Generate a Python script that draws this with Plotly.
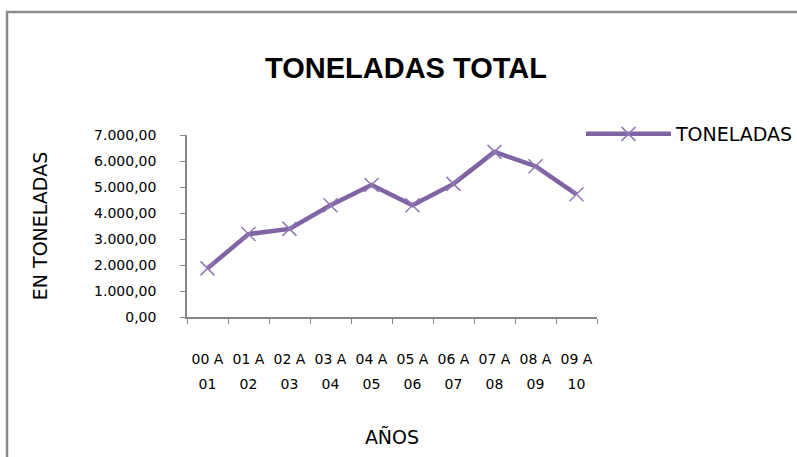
import plotly.graph_objects as go

# Tonnage per season, 2000-2010
periodo_inicio = ["00 A", "01 A", "02 A", "03 A", "04 A", "05 A", "06 A", "07 A", "08 A", "09 A"]
periodo_fin = ["01", "02", "03", "04", "05", "06", "07", "08", "09", "10"]
toneladas = [1870, 3190, 3390, 4300, 5080, 4300, 5120, 6350, 5800, 4720]

PURPLE = "#7F63A2"
W, H = 797, 457
L, R, T, B = 187, 200, 135, 140
pw, ph = W - L - R, H - T - B

def px(x):
    return (x - L) / pw

def py(y):
    return (H - B - y) / ph

AXIS_GREY = "#868686"
TICK_FONT = dict(family="DejaVu Sans", size=14, color="black")
TITLE_FONT = dict(family="DejaVu Sans", size=19, color="black")

fig = go.Figure()
fig.add_trace(go.Scatter(
    x=periodo_inicio, y=toneladas, name="TONELADAS", mode="lines+markers",
    line=dict(color=PURPLE, width=4.5),
    marker=dict(symbol="x-thin", size=14, line=dict(color="#9279B5", width=1.5)),
))
# same series on the numeric twin axis that carries the second label row (kept invisible)
fig.add_trace(go.Scatter(
    x=list(range(len(toneladas))), y=toneladas, xaxis="x2", mode="lines",
    line=dict(width=0), opacity=0, showlegend=False, hoverinfo="skip",
))

fig.update_layout(
    width=W, height=H,
    margin=dict(l=L, r=R, t=T, b=B, autoexpand=False),
    paper_bgcolor="white", plot_bgcolor="white",
    separators=",.",
    showlegend=True,
    title=dict(text="<b>TONELADAS TOTAL</b>", x=px(406), xref="paper", xanchor="center",
               y=1 - 68 / H, yref="container", yanchor="middle",
               font=dict(family="Liberation Sans, Arial", size=29, color="black")),
    legend=dict(x=px(581), y=py(134), xanchor="left", yanchor="middle", itemwidth=85,
                font=dict(family="DejaVu Sans", size=19, color="black"), bgcolor="rgba(0,0,0,0)"),
    xaxis=dict(
        type="category", range=[-0.5, 9.5], tickson="boundaries", ticks="outside", ticklen=5,
        tickcolor=AXIS_GREY, showline=True, linecolor=AXIS_GREY, linewidth=1.5, showgrid=False,
        tickfont=TICK_FONT, tickangle=0, ticklabelstandoff=28,
    ),
    # second row of the period labels ("01", "02", ...) under the first row
    xaxis2=dict(
        overlaying="x", anchor="y", side="bottom", range=[-0.5, 9.5],
        tickmode="array", tickvals=list(range(len(periodo_fin))), ticktext=periodo_fin,
        ticks="", showline=False, showgrid=False, zeroline=False,
        tickfont=TICK_FONT, tickangle=0, ticklabelstandoff=57,
        title=dict(text="AÑOS", standoff=39, font=TITLE_FONT),
    ),
    yaxis=dict(
        range=[0, 7000], dtick=1000, tickformat=",.2f", ticks="outside", ticklen=5,
        tickcolor=AXIS_GREY, showline=True, linecolor=AXIS_GREY, linewidth=1.5, showgrid=False,
        zeroline=False, tickfont=TICK_FONT, ticklabelstandoff=21,
        title=dict(text="EN TONELADAS", standoff=41, font=TITLE_FONT),
    ),
    shapes=[dict(type="rect", xref="paper", yref="paper",
                 x0=px(7), x1=px(W + 20), y0=py(H + 20), y1=py(12),
                 line=dict(color="#8A8A8A", width=2.5), fillcolor="rgba(0,0,0,0)", layer="below")],
)

fig.write_html("out.html")
